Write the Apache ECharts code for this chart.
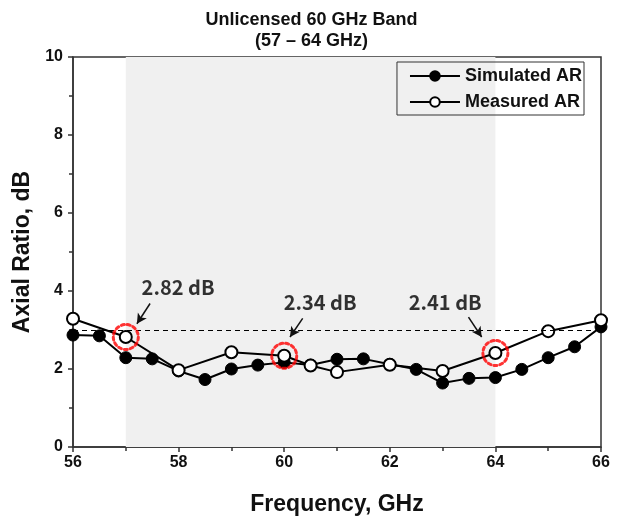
<!DOCTYPE html>
<html>
<head>
<meta charset="utf-8">
<script src="https://cdn.jsdelivr.net/npm/echarts@6/dist/echarts.min.js"></script>
<style>
  html, body { margin: 0; padding: 0; background: #fff; }
  #chart { width: 623px; height: 516px; }
</style>
</head>
<body>
<div id="chart"></div>
<script>
const SIM_FREQ = [56, 56.5, 57, 57.5, 58, 58.5, 59, 59.5, 60, 60.5, 61, 61.5, 62, 62.5, 63, 63.5, 64, 64.5, 65, 65.5, 66];
const SIM_AR = [2.87, 2.85, 2.29, 2.26, 1.95, 1.73, 2.0, 2.1, 2.17, 2.1, 2.25, 2.26, 2.12, 1.99, 1.64, 1.76, 1.78, 1.99, 2.29, 2.57, 3.08];

const MEAS_FREQ = [56, 57, 58, 59, 60, 60.5, 61, 62, 63, 64, 65, 66];
const MEAS_AR = [3.29, 2.82, 1.97, 2.43, 2.34, 2.09, 1.92, 2.11, 1.95, 2.41, 2.97, 3.25];

// highlighted points (red dotted rings)
const MARK_FREQ = [57, 60, 64];
const MARK_AR = [2.82, 2.34, 2.41];

// annotation text + arrows (data coords)
const NOTE_TEXT = ["2.82 dB", "2.34 dB", "2.41 dB"];
const NOTE_POS = [[57.99, 4.09], [60.68, 3.71], [63.05, 3.71]];
const ARROW_FROM = [[57.46, 3.68], [60.35, 3.30], [63.49, 3.33]];
const ARROW_TO = [[57.21, 3.16], [60.11, 2.82], [63.74, 2.82]];

const BAND = [57, 64];
const AR_LIMIT = 3;

const X_TICKS = { min: 56, max: 66, interval: 2 };
const Y_TICKS = { min: 0, max: 10, interval: 2 };

const ARIAL = "'Liberation Sans', Arial, sans-serif";
const NARROW = "'Liberation Sans Narrow', 'Liberation Sans', Arial, sans-serif";

const chart = echarts.init(document.getElementById("chart"), null, { renderer: "canvas" });

const zip = (xs, ys) => xs.map((x, i) => [x, ys[i]]);

chart.setOption({
  animation: false,
  backgroundColor: "#fff",
  title: {
    text: "Unlicensed 60 GHz Band\n(57 – 64 GHz)",
    left: "center",
    top: 5,
    textStyle: { fontFamily: ARIAL, fontSize: 18, fontWeight: "bold", color: "#111", lineHeight: 21 },
  },
  legend: {
    data: ["Simulated AR", "Measured AR"],
    orient: "vertical",
    right: 39,
    top: 62,
    padding: [5, 2, 4, 12],
    itemGap: 8,
    itemWidth: 50,
    itemHeight: 12,
    borderColor: "#333",
    borderWidth: 1,
    textStyle: { fontFamily: ARIAL, fontSize: 18, fontWeight: "bold", color: "#111" },
  },
  grid: {
    left: 73, right: 22, top: 57, bottom: 69,
    outerBoundsMode: "none",
    show: true, borderColor: "#333", borderWidth: 1.5,
  },
  xAxis: {
    type: "value",
    ...X_TICKS,
    name: "Frequency, GHz",
    nameLocation: "middle",
    nameGap: 46,
    nameTextStyle: { fontFamily: ARIAL, fontSize: 23, fontWeight: "bold", color: "#111" },
    axisLine: { lineStyle: { color: "#333", width: 1.5 } },
    axisTick: { length: 5, lineStyle: { color: "#333", width: 1.5 } },
    minorTick: { show: true, splitNumber: 2, length: 4, lineStyle: { color: "#333", width: 1.5 } },
    splitLine: { show: false },
    axisLabel: { fontFamily: NARROW, fontSize: 16, fontWeight: "bold", color: "#111", margin: 8 },
  },
  yAxis: {
    type: "value",
    ...Y_TICKS,
    name: "Axial Ratio, dB",
    nameLocation: "middle",
    nameGap: 33,
    nameTextStyle: { fontFamily: ARIAL, fontSize: 23, fontWeight: "bold", color: "#111" },
    axisLine: { show: true, lineStyle: { color: "#333", width: 1.5 } },
    axisTick: { show: true, length: 5, lineStyle: { color: "#333", width: 1.5 } },
    minorTick: { show: true, splitNumber: 2, length: 4, lineStyle: { color: "#333", width: 1.5 } },
    splitLine: { show: false },
    axisLabel: { fontFamily: NARROW, fontSize: 16, fontWeight: "bold", color: "#111", margin: 10 },
  },
  series: [
    {
      name: "Simulated AR",
      type: "line",
      data: zip(SIM_FREQ, SIM_AR),
      symbol: "circle",
      symbolSize: 12,
      lineStyle: { color: "#000", width: 2 },
      itemStyle: { color: "#000", borderColor: "#000", borderWidth: 1 },
      z: 3,
      markArea: {
        silent: true,
        itemStyle: { color: "#f0f0f0" },
        data: [[{ xAxis: BAND[0] }, { xAxis: BAND[1] }]],
      },
      markLine: {
        silent: true,
        symbol: ["none", "none"],
        label: { show: false },
        lineStyle: { color: "#000", width: 1, type: [5, 4] },
        data: [{ yAxis: AR_LIMIT }],
      },
    },
    {
      name: "Measured AR",
      type: "line",
      data: zip(MEAS_FREQ, MEAS_AR),
      symbol: "circle",
      symbolSize: 12,
      lineStyle: { color: "#000", width: 2 },
      itemStyle: { color: "#fff", borderColor: "#000", borderWidth: 2 },
      z: 4,
    },
    {
      name: "marks",
      type: "scatter",
      data: zip(MARK_FREQ, MARK_AR),
      symbol: "circle",
      symbolSize: 25,
      itemStyle: { color: "rgba(0,0,0,0)", borderColor: "#ff0000", borderWidth: 3, borderType: [3, 3], borderCap: "round" },
      z: 5,
      silent: true,
    },
    {
      name: "notes",
      type: "scatter",
      data: NOTE_POS.map((p, i) => [p[0], p[1], NOTE_TEXT[i]]),
      symbolSize: 1,
      itemStyle: { color: "rgba(0,0,0,0)" },
      label: {
        show: true,
        position: "inside",
        formatter: (p) => p.data[2],
        fontFamily: "'Noto Sans CJK KR', 'Noto Sans', sans-serif",
        fontSize: 20,
        fontWeight: "bold",
        color: "#000",
      },
      z: 6,
      silent: true,
      markLine: {
        silent: true,
        symbol: ["none", "arrow"],
        symbolSize: [8, 10],
        label: { show: false },
        lineStyle: { color: "#111", width: 1.5, type: "solid" },
        data: ARROW_FROM.map((a, i) => [{ coord: a }, { coord: ARROW_TO[i] }]),
      },
    },
  ],
});
</script>
</body>
</html>
